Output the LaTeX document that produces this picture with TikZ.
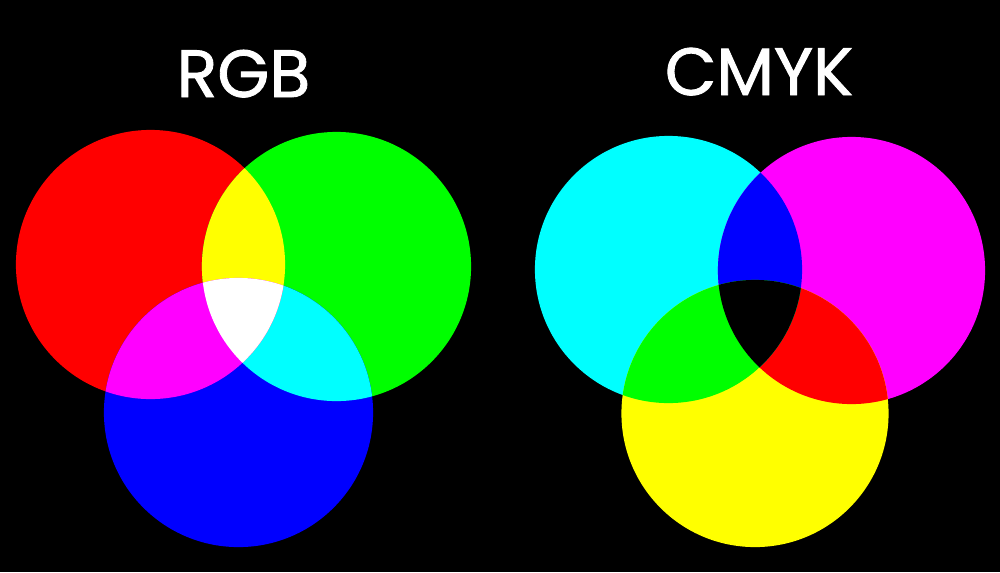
\documentclass[tikz,border=0pt]{standalone}
\usepackage{fontspec}
\setmainfont{Poppins}[FakeBold=1.3]
\usepackage{tikz}
\definecolor{pcyan}{rgb}{0,1,1}
\definecolor{pmagenta}{rgb}{1,0,1}
\definecolor{pyellow}{rgb}{1,1,0}
\tikzstyle{title} = [text=white, font=\fontsize{19}{23}\selectfont,
  anchor=base, inner sep=0pt]
\tikzstyle{disc} = [radius=1.345cm]
\tikzstyle{ink} = [radius=1.335cm]

\begin{document}
\begin{tikzpicture}[x=0.01cm, y=-0.01cm]
    \fill[black] (0,0) rectangle (1000,572);
    \node[title] (rgb) at (243.5,97) {RGB};
    \node[title] (cmyk) at (759,95) {CMYK};
    % additive
    \coordinate (R) at (150.5,264.5);
    \coordinate (G) at (336.5,266.5);
    \coordinate (B) at (238.5,412.5);
    \fill[red] (R) circle[disc];
    \fill[green] (G) circle[disc];
    \fill[blue] (B) circle[disc];
    \begin{scope}
        \clip (G) circle[disc];
        \fill[pcyan] (B) circle[disc];
    \end{scope}
    \begin{scope}
        \clip (R) circle[disc];
        \fill[pyellow] (G) circle[disc];
        \fill[pmagenta] (B) circle[disc];
        \clip (G) circle[disc];
        \fill[white] (B) circle[disc];
    \end{scope}
    % subtractive
    \coordinate (C) at (668.5,269.5);
    \coordinate (M) at (851.5,270.5);
    \coordinate (Y) at (755,413.5);
    \fill[pcyan] (C) circle[ink];
    \fill[pmagenta] (M) circle[ink];
    \fill[pyellow] (Y) circle[ink];
    \begin{scope}
        \clip (M) circle[ink];
        \fill[red] (Y) circle[ink];
    \end{scope}
    \begin{scope}
        \clip (C) circle[ink];
        \fill[blue] (M) circle[ink];
        \fill[green] (Y) circle[ink];
        \clip (M) circle[ink];
        \fill[black] (Y) circle[ink];
    \end{scope}
\end{tikzpicture}
\end{document}
